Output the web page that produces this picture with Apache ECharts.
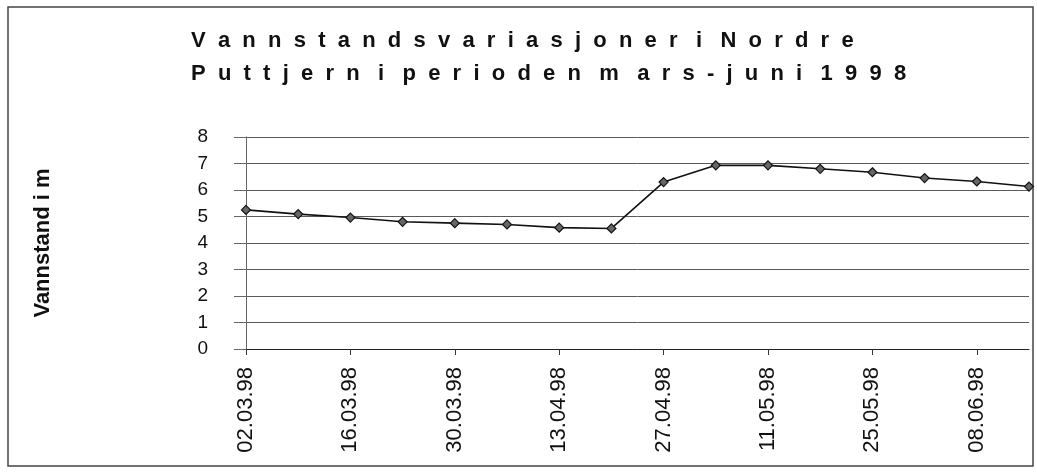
<!DOCTYPE html>
<html>
<head>
<meta charset="utf-8">
<script src="https://cdn.jsdelivr.net/npm/echarts@6/dist/echarts.min.js"></script>
<style>
  html, body { margin: 0; padding: 0; background: #fff; }
  #chart { width: 1037px; height: 474px; }
</style>
</head>
<body>
<div id="chart"></div>
<script>
// datoer (ukentlige målinger)
var dates = ['02.03.98', '09.03.98', '16.03.98', '23.03.98', '30.03.98', '06.04.98', '13.04.98', '20.04.98',
  '27.04.98', '04.05.98', '11.05.98', '18.05.98', '25.05.98', '01.06.98', '08.06.98', '15.06.98'];
// vannstand i m
var levels = [5.25, 5.09, 4.96, 4.80, 4.75, 4.70, 4.58, 4.55, 6.30, 6.93, 6.93, 6.80, 6.67, 6.45, 6.32, 6.13];
var titleLines = ['Vannstandsvariasjoner i Nordre', 'Puttjern i perioden m ars-juni 1998'];
var yName = 'Vannstand i m';

// sperret tittel, som i originalen
function spaced(s) {
  return s.split(' ').map(function (w) {
    return w.split('').join('  ');
  }).join('   ');
}

var chart = echarts.init(document.getElementById('chart'));

var option = {
  animation: false,
  backgroundColor: '#fff',
  title: {
    text: titleLines.map(spaced).join('\n'),
    left: 186,
    top: 19,
    textStyle: {
      fontFamily: 'Liberation Sans, Arial',
      fontWeight: 'bold',
      fontSize: 22,
      lineHeight: 33,
      color: '#111'
    }
  },
  graphic: [{
    type: 'rect',
    shape: { x: 8, y: 7, width: 1025, height: 459 },
    style: { fill: 'none', stroke: '#444', lineWidth: 1.5 },
    silent: true
  }],
  grid: {
    left: 246,
    right: 8,
    top: 137,
    bottom: 125
  },
  xAxis: {
    type: 'category',
    data: dates,
    boundaryGap: false,
    axisLine: { lineStyle: { color: '#222', width: 1 } },
    axisTick: { show: true, interval: 1, length: 6, lineStyle: { color: '#333' } },
    axisLabel: {
      interval: 1,
      rotate: 90,
      margin: 18,
      fontFamily: 'Liberation Sans, Arial',
      fontSize: 22,
      color: '#111'
    },
    splitLine: { show: false }
  },
  yAxis: {
    type: 'value',
    min: 0,
    max: 8,
    interval: 1,
    name: yName,
    nameLocation: 'middle',
    nameRotate: 90,
    nameGap: 192,
    nameTextStyle: {
      fontFamily: 'Liberation Sans, Arial',
      fontWeight: 'bold',
      fontSize: 22,
      color: '#111'
    },
    axisLine: { show: true, lineStyle: { color: '#666', width: 1 } },
    axisTick: { show: true, length: 12, lineStyle: { color: '#666' } },
    axisLabel: {
      margin: 38,
      fontFamily: 'Liberation Sans, Arial',
      fontSize: 19,
      color: '#111'
    },
    splitLine: { show: true, lineStyle: { color: '#5a5a5a', width: 1 } }
  },
  series: [{
    type: 'line',
    data: levels,
    symbol: 'diamond',
    symbolSize: 9,
    lineStyle: { color: '#111', width: 1.6 },
    itemStyle: { color: '#666', borderColor: '#111', borderWidth: 1.2 }
  }]
};

chart.setOption(option);
</script>
</body>
</html>
